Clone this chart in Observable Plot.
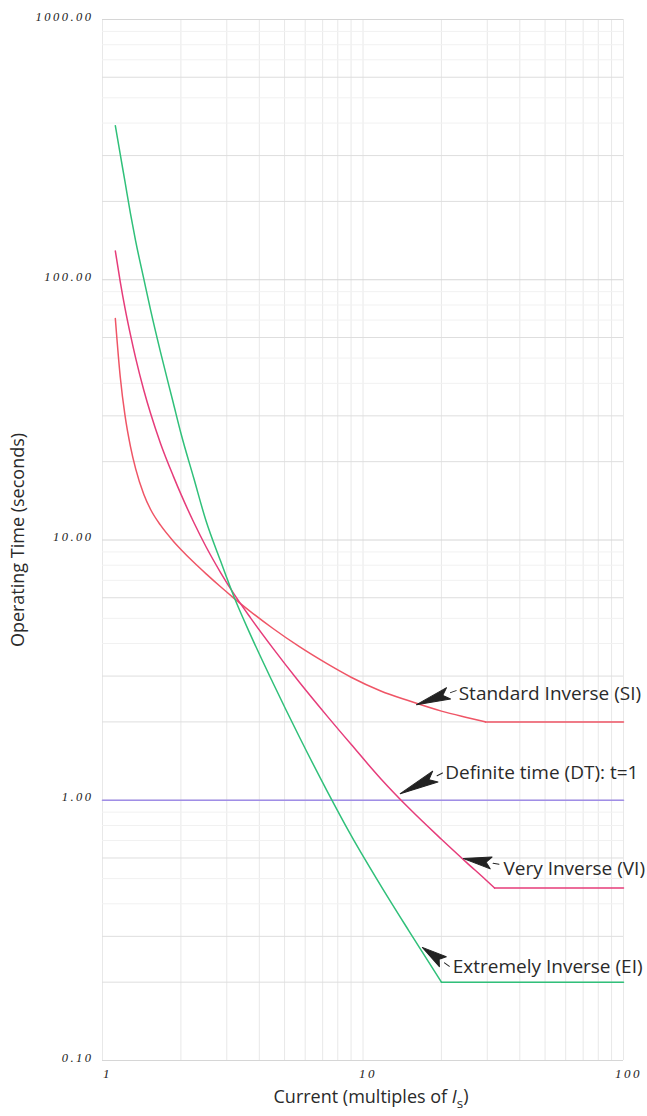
<!DOCTYPE html>
<html>
<head>
<meta charset="utf-8">
<script src="https://cdn.jsdelivr.net/npm/d3@7"></script>
<script src="https://cdn.jsdelivr.net/npm/@observablehq/plot@0.6"></script>
<style>
  body { margin: 0; background: #fff; }
  #chart svg { display: block; }
  g[aria-label="y-axis tick label"] text,
  g[aria-label="x-axis tick label"] text { letter-spacing: 2.5px; }
</style>
</head>
<body>
<div id="chart"></div>
<script>
// Current (multiples of Is)
const current = [1.12, 1.17, 1.22, 1.28, 1.34, 1.44, 1.53, 1.67, 1.87, 2.0, 2.24, 2.5, 2.84, 3.2, 3.7, 4.5, 5.7, 7.3, 9, 11.7, 15, 20, 25, 29.5, 32, 40, 50, 70, 100];
// Operating times (seconds)
const standardInverse = [71, 42.3, 30.1, 22.9, 18.8, 15.0, 13.1, 11.4, 9.90, 9.20, 8.21, 7.41, 6.61, 5.97, 5.31, 4.58, 3.89, 3.34, 2.97, 2.63, 2.41, 2.20, 2.08, 2.0, 2.0, 2.0, 2.0, 2.0, 2.0];
const veryInverse = [129, 98.2, 77.8, 61.5, 50.1, 37.7, 30.6, 23.5, 17.6, 15.0, 11.7, 9.40, 7.50, 6.19, 5.02, 3.85, 2.84, 2.10, 1.64, 1.21, 0.933, 0.708, 0.576, 0.496, 0.46, 0.46, 0.46, 0.46, 0.46];
const extremelyInverse = [391, 303, 238, 180, 141, 101, 76.4, 52.7, 33.6, 25.7, 17.3, 11.8, 8.30, 6.04, 4.32, 2.84, 1.75, 1.08, 0.733, 0.47, 0.315, 0.2, 0.2, 0.2, 0.2, 0.2, 0.2, 0.2, 0.2];
const definiteCurrent = [1, 100];
const definiteTime = [1, 1];

// tick labels
const xTicks = [1, 10, 100];
const yTicks = [0.1, 1, 10, 100, 1000];
const gridX = [1, 2, 3, 4, 5, 6, 7, 8, 9, 10, 20, 30, 40, 50, 60, 70, 80, 90, 100];
const gridYMajor = [0.1, 1, 10, 100, 1000];
const gridYMid = [0.2, 0.3, 0.6, 2, 3, 6, 20, 30, 60, 200, 300, 600];
const gridYMinor = [0.4, 0.5, 0.7, 0.8, 0.9, 4, 5, 7, 8, 9, 40, 50, 70, 80, 90, 400, 500, 700, 800, 900];

// annotations (data coordinates)
const annText = ["Standard Inverse (SI)", "Definite time (DT): t=1", "Very Inverse (VI)", "Extremely Inverse (EI)"];
const annTextX = [23.3, 20.7, 34.6, 22.1];
const annTextY = [2.57, 1.278, 0.547, 0.228];
const arrowTipX = [16.05, 13.9, 24.3, 16.9];
const arrowTipY = [2.33, 1.06, 0.597, 0.272];
const arrowAngle = [-109.5, -116, -81, -55];
const arrowLength = [43, 48, 37, 34];

const table = (ys) => current.map((c, i) => ({current: c, time: ys[i]}));
const dtData = definiteCurrent.map((c, i) => ({current: c, time: definiteTime[i]}));
const labels = annText.map((t, i) => ({text: t, x: annTextX[i], y: annTextY[i]}));

// split a series into its curved part and its flat (definite minimum) part
function curveMarks(ys, stroke) {
  const rows = table(ys);
  const last = ys[ys.length - 1];
  const k = ys.indexOf(last);
  return [
    Plot.line(rows.slice(0, k + 1), {x: "current", y: "time", stroke, strokeWidth: 1.5, curve: "monotone-x"}),
    Plot.line(rows.slice(k), {x: "current", y: "time", stroke, strokeWidth: 1.5})
  ];
}

const dart = {
  draw(context, l) {
    const h = l - 9, w = 6;
    context.moveTo(0, -l);
    context.lineTo(-w, -l + h);
    context.lineTo(0, -l + h * 0.82);
    context.lineTo(w, -l + h);
    context.closePath();
    context.moveTo(0, -l + h + 2);
    context.lineTo(0, -1);
  }
};

const arrowMarks = arrowTipX.map((x, i) =>
  Plot.vector([{x, y: arrowTipY[i]}], {
    x: "x", y: "y", rotate: arrowAngle[i], length: arrowLength[i], anchor: "end",
    shape: dart, fill: "#222", stroke: "#222", strokeWidth: 1
  })
);

const sans = "'Open Sans', 'DejaVu Sans', sans-serif";
const serif = "'Liberation Serif', 'DejaVu Serif', serif";

const chart = Plot.plot({
  width: 647,
  height: 1116,
  marginLeft: 102,
  marginRight: 24,
  marginTop: 19,
  marginBottom: 56,
  style: {background: "#fff", fontFamily: sans},
  x: {type: "log", domain: [1, 100]},
  y: {type: "log", domain: [0.1, 1000]},
  marks: [
    Plot.ruleX(gridX, {stroke: "#e8e8e8"}),
    Plot.ruleY(gridYMinor, {stroke: "#f1f1f1"}),
    Plot.ruleY(gridYMid, {stroke: "#dedede"}),
    Plot.ruleY(gridYMajor, {stroke: "#d6d6d6"}),
    Plot.axisX({ticks: xTicks, tickFormat: d => String(d), tickSize: 0, tickPadding: 8, dx: 5, fontFamily: serif, fontStyle: "italic", fontSize: 13, fill: "#222", label: null}),
    Plot.axisY({ticks: yTicks, tickFormat: d => d.toFixed(2), tickSize: 0, tickPadding: 9, dy: -3, fontFamily: serif, fontStyle: "italic", fontSize: 12.5, fill: "#222", label: null}),
    Plot.line(dtData, {x: "current", y: "time", stroke: "#a08ee6", strokeWidth: 1.6}),
    ...curveMarks(standardInverse, "#ef5566"),
    ...curveMarks(veryInverse, "#e63c7a"),
    ...curveMarks(extremelyInverse, "#30c07a"),
    ...arrowMarks,
    Plot.text(labels, {x: "x", y: "y", text: "text", textAnchor: "start", lineAnchor: "middle", fontSize: 19, fill: "#2a2a2a"}),
    Plot.text(["Operating Time (seconds)"], {frameAnchor: "left", textAnchor: "middle", lineAnchor: "middle", rotate: -90, dx: -84, fontSize: 18, fill: "#2a2a2a"}),
    Plot.text(["Current (multiples of Is)"], {frameAnchor: "bottom", textAnchor: "middle", lineAnchor: "middle", dy: 37, dx: 8, fontSize: 18, fill: "#2a2a2a"})
  ]
});

document.getElementById("chart").appendChild(chart);

// italic I with subscript s in the x-axis title
d3.select(chart).selectAll("text").filter(function () {
  return this.textContent === "Current (multiples of Is)";
}).each(function () {
  const t = d3.select(this);
  t.text(null);
  t.append("tspan").text("Current (multiples of ");
  t.append("tspan").attr("font-style", "italic").text("I");
  t.append("tspan").attr("dy", "0.35em").attr("font-size", "0.75em").text("s");
  t.append("tspan").attr("dy", "-0.35em").text(")");
});
</script>
</body>
</html>
